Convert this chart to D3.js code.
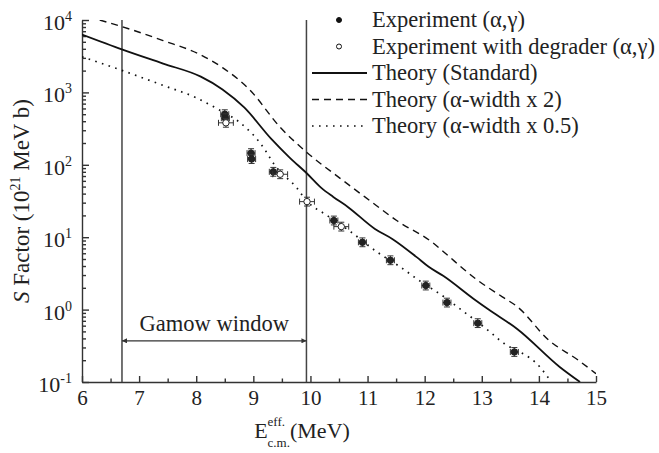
<!DOCTYPE html>
<html>
<head>
<meta charset="utf-8">
<script src="https://cdn.jsdelivr.net/npm/d3@7"></script>
<style>
  body { margin: 0; background: #fff; }
  svg { display: block; }
</style>
</head>
<body>
<div id="chart"></div>
<script>
// Theory curves (E in MeV, S in 10^21 MeV b)
const stdE = [6.0, 6.71, 7.42, 8.08, 8.46, 8.84, 9.31, 9.64, 9.93, 10.19, 10.40, 10.66, 11.13, 11.44, 11.86, 12.07, 12.33, 12.86, 13.12, 13.62, 14.37, 14.72];
const stdS = [6300, 3900, 2500, 1650, 1100, 620, 230, 125, 77, 48, 36, 26, 13, 9.4, 5.3, 3.9, 2.9, 1.4, 1.0, 0.54, 0.16, 0.1];

const x2E = [6.31, 6.95, 7.42, 8.08, 8.46, 8.93, 9.47, 9.93, 10.52, 11.04, 11.51, 12.15, 12.34, 12.91, 13.36, 13.62, 14.17, 14.69, 15.0];
const x2S = [10000, 7000, 5200, 3300, 2200, 1100, 330, 150, 65, 32, 17, 8.3, 6.2, 2.6, 1.5, 1.1, 0.38, 0.2, 0.13];

const x05E = [6.0, 6.71, 7.42, 7.99, 8.36, 8.77, 9.12, 9.40, 9.76, 9.93, 10.29, 10.71, 11.16, 11.59, 11.88, 12.34, 12.60, 13.16, 13.31, 14.02, 14.22];
const x05S = [3100, 2000, 1250, 850, 600, 380, 200, 93, 48, 32, 20, 11.8, 6.3, 3.8, 2.6, 1.5, 1.05, 0.48, 0.38, 0.16, 0.1];

// Measured points
const expE = [8.50, 8.51, 8.96, 8.97, 9.35, 10.41, 10.91, 11.40, 12.02, 12.39, 12.93, 13.57];
const expS = [500, 440, 145, 120, 80, 17, 8.5, 4.8, 2.15, 1.25, 0.65, 0.26];
const degE = [8.52, 9.47, 9.94, 10.54];
const degS = [380, 74, 31, 14];

const gamowWindow = [6.7, 9.93];
const xTicks = [6, 7, 8, 9, 10, 11, 12, 13, 14, 15];
const yExp = [-1, 0, 1, 2, 3, 4];

const width = 659, height = 453;
const serif = "Liberation Serif";
const x = d3.scaleLinear().domain([6, 15]).range([82, 596]);
const y = d3.scaleLog().domain([0.1, 10000]).range([382, 20]);

const svg = d3.select("#chart").append("svg")
  .attr("width", width)
  .attr("height", height)
  .attr("font-family", serif);

svg.append("defs").append("clipPath").attr("id", "plot")
  .append("rect")
  .attr("x", x(6)).attr("y", y(10000))
  .attr("width", x(15) - x(6)).attr("height", y(0.1) - y(10000));

const axisColor = "#333";

// x axis, ticks pointing inward
const xAxis = svg.append("g")
  .attr("transform", `translate(0,${y(0.1)})`)
  .call(d3.axisBottom(x).tickValues(xTicks).tickSize(-6).tickSizeOuter(0).tickPadding(8).tickFormat(d3.format("d")));
svg.append("g")
  .attr("transform", `translate(0,${y(0.1)})`)
  .call(d3.axisBottom(x).tickValues(d3.range(6.5, 15, 1)).tickSize(-3.5).tickSizeOuter(0).tickFormat(""))
  .select(".domain").remove();

// y axis
svg.append("g")
  .attr("transform", `translate(${x(6)},0)`)
  .call(d3.axisLeft(y).tickValues(yExp.map(e => Math.pow(10, e))).tickSize(-7).tickSizeOuter(0).tickFormat(""));
const minor = [];
yExp.slice(0, -1).forEach(e => { for (let k = 2; k <= 9; k++) minor.push(k * Math.pow(10, e)); });
svg.append("g")
  .attr("transform", `translate(${x(6)},0)`)
  .call(d3.axisLeft(y).tickValues(minor).tickSize(-4).tickSizeOuter(0).tickFormat(""))
  .select(".domain").remove();

svg.selectAll("g").attr("font-family", serif);
svg.selectAll(".domain, .tick line").attr("stroke", axisColor).attr("stroke-width", 1.4);
xAxis.selectAll("text").attr("font-size", 21).attr("fill", "#222");

const yLab = svg.append("g").selectAll("text").data(yExp).join("text")
  .attr("x", 72)
  .attr("y", d => y(Math.pow(10, d)) + 10)
  .attr("text-anchor", "end")
  .attr("font-size", 22)
  .attr("fill", "#222");
yLab.append("tspan").text("10");
yLab.append("tspan").attr("dy", -9).attr("font-size", 14).text(d => d);

// axis titles
const yTitle = svg.append("text")
  .attr("transform", `translate(29,${(y(0.1) + y(10000)) / 2}) rotate(-90)`)
  .attr("text-anchor", "middle")
  .attr("font-size", 23)
  .attr("fill", "#222");
yTitle.append("tspan").attr("font-style", "italic").text("S");
yTitle.append("tspan").text(" Factor (10");
yTitle.append("tspan").attr("dy", -9).attr("font-size", 14).text("21");
yTitle.append("tspan").attr("dy", 9).text(" MeV b)");

const xt = svg.append("g").attr("fill", "#222");
const base = 438;
const tE = xt.append("text").attr("y", base).attr("font-size", 22).text("E");
const tEff = xt.append("text").attr("y", base - 12).attr("font-size", 13).text("eff.");
const tCm = xt.append("text").attr("y", base + 9).attr("font-size", 13).text("c.m.");
const tMeV = xt.append("text").attr("y", base).attr("font-size", 22).text("(MeV)");
const wE = tE.node().getComputedTextLength();
const wS = Math.max(tEff.node().getComputedTextLength(), tCm.node().getComputedTextLength());
const wM = tMeV.node().getComputedTextLength();
const x0 = 302 - (wE + wS + wM) / 2;
tE.attr("x", x0);
tEff.attr("x", x0 + wE);
tCm.attr("x", x0 + wE);
tMeV.attr("x", x0 + wE + wS);

// Gamow window
svg.append("g").selectAll("line").data(gamowWindow).join("line")
  .attr("x1", d => x(d)).attr("x2", d => x(d))
  .attr("y1", y(10000)).attr("y2", y(0.1))
  .attr("stroke", "#444").attr("stroke-width", 1.5);

svg.select("defs").append("marker")
  .attr("id", "arr").attr("viewBox", "0 0 10 10")
  .attr("refX", 10).attr("refY", 5)
  .attr("markerWidth", 7).attr("markerHeight", 5)
  .attr("markerUnits", "userSpaceOnUse")
  .attr("orient", "auto-start-reverse")
  .append("path").attr("d", "M0,0L10,5L0,10z").attr("fill", "#333");

svg.append("line")
  .attr("x1", x(gamowWindow[0])).attr("x2", x(gamowWindow[1]))
  .attr("y1", y(0.37)).attr("y2", y(0.37))
  .attr("stroke", "#333").attr("stroke-width", 1.2)
  .attr("marker-start", "url(#arr)").attr("marker-end", "url(#arr)");
svg.append("text")
  .attr("x", x(d3.mean(gamowWindow))).attr("y", y(0.51))
  .attr("text-anchor", "middle").attr("font-size", 22.5).attr("fill", "#222")
  .text("Gamow window");

// theory curves
const line = d3.line().x(d => x(d[0])).y(d => y(d[1])).curve(d3.curveMonotoneX);
const curves = [
  { e: stdE, s: stdS, dash: null, w: 1.8 },
  { e: x2E, s: x2S, dash: "7,5", w: 1.4 },
  { e: x05E, s: x05S, dash: "1.6,5.4", w: 1.7 }
];
const cg = svg.append("g").attr("clip-path", "url(#plot)");
cg.selectAll("path").data(curves).join("path")
  .attr("d", c => line(c.e.map((e, i) => [e, c.s[i]])))
  .attr("fill", "none").attr("stroke", "#111")
  .attr("stroke-width", c => c.w)
  .attr("stroke-dasharray", c => c.dash);

// data points with error bars
function drawPoints(es, ss, dx, open) {
  const g = svg.append("g");
  const pts = es.map((e, i) => [e, ss[i]]);
  const p = g.selectAll("g").data(pts).join("g");
  p.append("path")
    .attr("d", d => {
      const cx = x(d[0]), cy = y(d[1]);
      const y1 = y(d[1] * 1.15), y2 = y(d[1] / 1.15);
      const x1 = x(d[0] - dx), x2 = x(d[0] + dx);
      return `M${cx},${y1}V${y2}M${cx - 3},${y1}H${cx + 3}M${cx - 3},${y2}H${cx + 3}` +
             `M${x1},${cy}H${x2}M${x1},${cy - 3}V${cy + 3}M${x2},${cy - 3}V${cy + 3}`;
    })
    .attr("stroke", "#333").attr("stroke-width", 1).attr("fill", "none");
  p.append("circle")
    .attr("cx", d => x(d[0])).attr("cy", d => y(d[1])).attr("r", 3.2)
    .attr("fill", open ? "#fff" : "#222")
    .attr("stroke", "#222").attr("stroke-width", 1);
}
drawPoints(expE, expS, 0.07, false);
drawPoints(degE, degS, 0.13, true);

// legend
const legend = [
  { label: "Experiment (\u03b1,\u03b3)", type: "dot" },
  { label: "Experiment with degrader (\u03b1,\u03b3)", type: "open" },
  { label: "Theory (Standard)", type: "line", dash: null, w: 1.8 },
  { label: "Theory (\u03b1-width x 2)", type: "line", dash: "7,5", w: 1.4 },
  { label: "Theory (\u03b1-width x 0.5)", type: "line", dash: "1.6,5.4", w: 1.7 }
];
const lg = svg.append("g").selectAll("g").data(legend).join("g")
  .attr("transform", (d, i) => `translate(0,${20 + i * 26.5})`);
lg.filter(d => d.type === "line").append("line")
  .attr("x1", 312).attr("x2", 367)
  .attr("stroke", "#111").attr("stroke-width", d => d.w)
  .attr("stroke-dasharray", d => d.dash);
lg.filter(d => d.type !== "line").append("circle")
  .attr("cx", 339).attr("r", 2.5)
  .attr("fill", d => d.type === "dot" ? "#111" : "#fff")
  .attr("stroke", "#111").attr("stroke-width", 1);
lg.append("text")
  .attr("x", 372).attr("y", 7)
  .attr("font-size", 22.5).attr("fill", "#222")
  .text(d => d.label);
</script>
</body>
</html>
